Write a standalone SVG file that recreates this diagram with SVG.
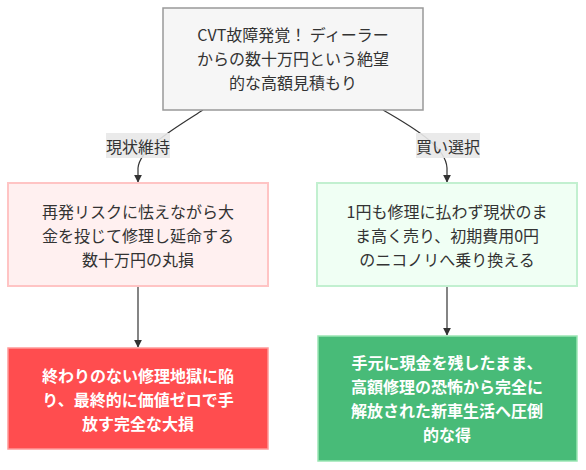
<svg xmlns="http://www.w3.org/2000/svg" width="586" height="470" viewBox="0 0 586 470">
<defs>
<marker id="arr" viewBox="0 0 10 10" refX="9" refY="5" markerWidth="8" markerHeight="8" markerUnits="userSpaceOnUse" orient="auto">
<path d="M0,0 L10,5 L0,10 z" fill="#333"/>
</marker>
<style>
text{font-family:"Noto Sans CJK JP","Noto Sans",sans-serif;font-size:16px;text-anchor:middle;dominant-baseline:central;fill:#333}
.w{fill:#fff;font-weight:bold}
.e{fill:none;stroke:#333;stroke-width:1.2}
.lb{fill:#e8e8e8;fill-opacity:0.9}
</style>
</defs>
<rect width="586" height="470" fill="#fff"/>
<g id="edges">
<path class="e" d="M203,110 C175,128 140,148 138,168 L138,182" marker-end="url(#arr)"/>
<path class="e" d="M383,110 C418,130 446,148 447,168 L447,182" marker-end="url(#arr)"/>
<path class="e" d="M138,286 L138,347" marker-end="url(#arr)"/>
<path class="e" d="M447,286 L447,335" marker-end="url(#arr)"/>
<g id="label-keep"><rect class="lb" x="106" y="133" width="64" height="25"/><text x="138" y="145.5">現状維持</text></g>
<g id="label-sell"><rect class="lb" x="416" y="133" width="64" height="25"/><text x="448" y="145.5">買い選択</text></g>
</g>
<g id="start">
<rect x="163" y="8" width="260" height="102" fill="#f6f6f6" stroke="#999" stroke-width="1.5"/>
<text x="293" y="34">CVT故障発覚！ ディーラー</text>
<text x="293" y="58">からの数十万円という絶望</text>
<text x="293" y="82">的な高額見積もり</text>
</g>
<g id="keep">
<rect x="8" y="183" width="260" height="103" fill="#fff0f0" stroke="#ffc4c4" stroke-width="2"/>
<text x="138" y="211">再発リスクに怯えながら大</text>
<text x="138" y="235">金を投じて修理し延命する</text>
<text x="138" y="259">数十万円の丸損</text>
</g>
<g id="sell">
<rect x="317" y="183" width="260" height="103" fill="#f0fff4" stroke="#c2f0d0" stroke-width="2"/>
<text x="447" y="211">1円も修理に払わず現状のま</text>
<text x="447" y="235">ま高く売り、初期費用0円</text>
<text x="447" y="259">のニコノリへ乗り換える</text>
</g>
<g id="loss">
<rect x="8" y="348" width="260" height="101" fill="#ff4d4f" stroke="#ff9999" stroke-width="1.5"/>
<text class="w" x="138" y="375">終わりのない修理地獄に陥</text>
<text class="w" x="138" y="399">り、最終的に価値ゼロで手</text>
<text class="w" x="138" y="423">放す完全な大損</text>
</g>
<g id="gain">
<rect x="318" y="336" width="259" height="125" fill="#48bb78" stroke="#9ae6b4" stroke-width="1.5"/>
<text class="w" x="447" y="362">手元に現金を残したまま、</text>
<text class="w" x="447" y="386">高額修理の恐怖から完全に</text>
<text class="w" x="447" y="410">解放された新車生活へ圧倒</text>
<text class="w" x="447" y="434">的な得</text>
</g>
</svg>
